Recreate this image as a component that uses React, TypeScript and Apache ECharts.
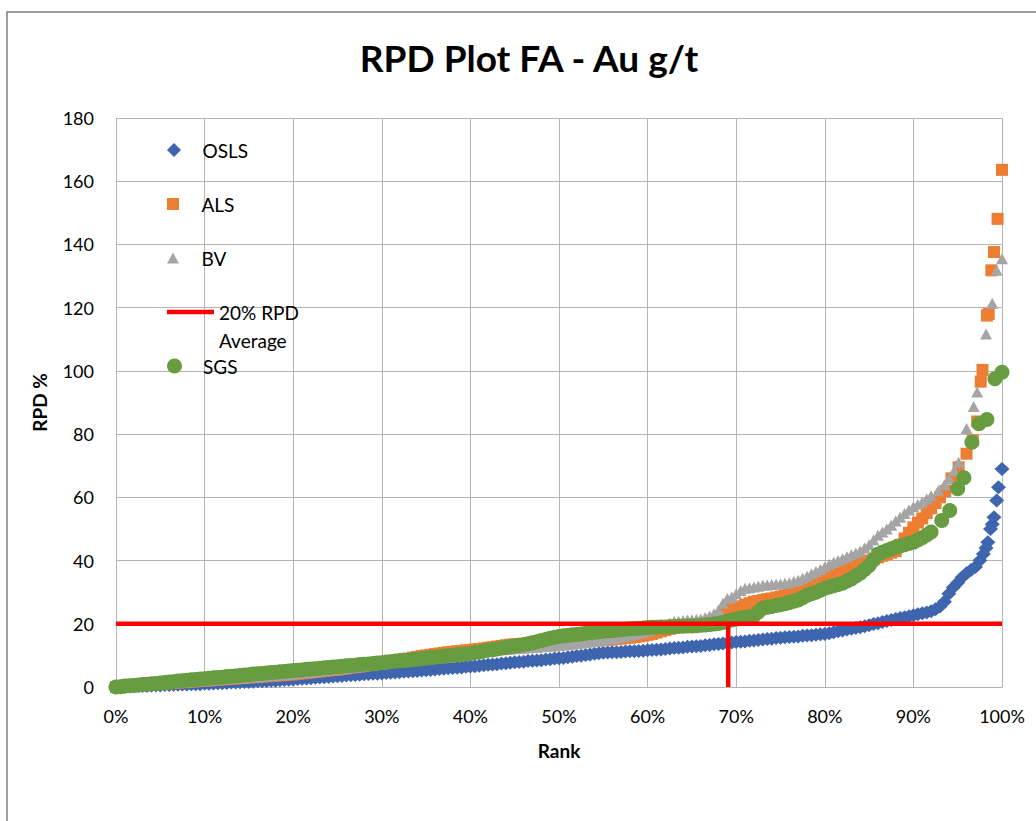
import React, { useEffect, useRef } from "react";
import * as echarts from "echarts";

const TITLE = "RPD Plot FA - Au g/t";
const X_NAME = "Rank";
const Y_NAME = "RPD %";

// [rank %, RPD %]
const osls: [number, number][] = [
  [0, 0], [0.5, 0.1], [1, 0.1], [1.5, 0.2], [2, 0.2], [2.5, 0.3], [3, 0.3], [3.5, 0.3], [4, 0.4], [4.5, 0.5], [5, 0.5],
  [5.5, 0.6], [6, 0.6], [6.5, 0.7], [7, 0.7], [7.5, 0.8], [8, 0.8], [8.5, 0.9], [9, 0.9], [9.5, 0.9], [10, 1.0],
  [10.5, 1.0], [11, 1.1], [11.5, 1.2], [12, 1.2], [12.5, 1.3], [13, 1.4], [13.5, 1.4], [14, 1.5], [14.5, 1.6], [15, 1.6],
  [15.5, 1.7], [16, 1.8], [16.5, 1.8], [17, 1.9], [17.5, 2.0], [18, 2.0], [18.5, 2.1], [19, 2.2], [19.5, 2.3], [20, 2.4],
  [20.5, 2.5], [21, 2.6], [21.5, 2.7], [22, 2.8], [22.5, 2.9], [23, 3.0], [23.5, 3.1], [24, 3.2], [24.5, 3.3], [25, 3.4],
  [25.5, 3.5], [26, 3.6], [26.5, 3.7], [27, 3.8], [27.5, 3.9], [28, 4.0], [28.5, 4.1], [29, 4.2], [29.5, 4.2], [30, 4.3],
  [30.5, 4.4], [31, 4.5], [31.5, 4.6], [32, 4.7], [32.5, 4.8], [33, 4.9], [33.5, 5.0], [34, 5.1], [34.5, 5.2], [35, 5.3],
  [35.5, 5.4], [36, 5.5], [36.5, 5.7], [37, 5.8], [37.5, 5.9], [38, 6.0], [38.5, 6.1], [39, 6.2], [39.5, 6.4], [40, 6.5],
  [40.5, 6.6], [41, 6.7], [41.5, 6.9], [42, 7.0], [42.5, 7.1], [43, 7.2], [43.5, 7.4], [44, 7.5], [44.5, 7.7], [45, 7.8],
  [45.5, 7.9], [46, 8.0], [46.5, 8.2], [47, 8.3], [47.5, 8.4], [48, 8.5], [48.5, 8.7], [49, 8.8], [49.5, 9.0], [50, 9.1],
  [50.5, 9.2], [51, 9.4], [51.5, 9.6], [52, 9.8], [52.5, 9.9], [53, 10.1], [53.5, 10.3], [54, 10.5], [54.5, 10.7], [55, 10.8],
  [55.5, 10.9], [56, 11.0], [56.5, 11.0], [57, 11.1], [57.5, 11.2], [58, 11.3], [58.5, 11.3], [59, 11.4], [59.5, 11.5], [60, 11.6],
  [60.5, 11.7], [61, 11.8], [61.5, 11.9], [62, 12.0], [62.5, 12.2], [63, 12.3], [63.5, 12.4], [64, 12.5], [64.5, 12.7], [65, 12.8],
  [65.5, 12.9], [66, 13.0], [66.5, 13.2], [67, 13.3], [67.5, 13.5], [68, 13.6], [68.5, 13.8], [69, 13.9], [69.5, 14.1], [70, 14.2],
  [70.5, 14.3], [71, 14.4], [71.5, 14.6], [72, 14.7], [72.5, 14.9], [73, 15.0], [73.5, 15.2], [74, 15.3], [74.5, 15.5], [75, 15.6],
  [75.5, 15.7], [76, 15.8], [76.5, 15.9], [77, 16.0], [77.5, 16.2], [78, 16.3], [78.5, 16.4], [79, 16.5], [79.5, 16.7], [80, 16.8],
  [80.5, 17.0], [81, 17.3], [81.5, 17.6], [82, 17.9], [82.5, 18.2], [83, 18.4], [83.5, 18.7], [84, 18.9], [84.5, 19.2], [85, 19.5],
  [85.5, 19.9], [86, 20.2], [86.5, 20.6], [87, 20.9], [87.5, 21.2], [88, 21.5], [88.5, 21.8], [89, 22.1], [89.5, 22.4], [90, 22.7],
  [90.5, 23.0], [91, 23.3], [91.5, 23.6], [92, 24.0], [92.5, 24.6], [93, 25.5], [93.5, 27], [94, 29.5], [94.5, 31.5], [95, 33],
  [95.5, 34.7], [96, 36], [96.5, 37], [97, 38], [97.5, 40], [97.9, 42.1], [98.2, 44], [98.4, 45.8], [98.7, 50], [98.9, 51.5],
  [99.1, 53.7], [99.4, 59], [99.6, 63.2], [100, 69],
];

const als: [number, number][] = [
  [0, 0], [0.5, 0.1], [1, 0.2], [1.5, 0.3], [2, 0.4], [2.5, 0.5], [3, 0.6], [3.5, 0.7], [4, 0.8], [4.5, 0.9], [5, 1.0],
  [5.5, 1.1], [6, 1.2], [6.5, 1.3], [7, 1.4], [7.5, 1.5], [8, 1.6], [8.5, 1.7], [9, 1.8], [9.5, 1.9], [10, 2.0],
  [10.5, 2.1], [11, 2.2], [11.5, 2.3], [12, 2.4], [12.5, 2.5], [13, 2.6], [13.5, 2.7], [14, 2.8], [14.5, 2.9], [15, 3.0],
  [15.5, 3.1], [16, 3.2], [16.5, 3.3], [17, 3.4], [17.5, 3.5], [18, 3.6], [18.5, 3.7], [19, 3.8], [19.5, 3.9], [20, 4.0],
  [20.5, 4.2], [21, 4.3], [21.5, 4.5], [22, 4.6], [22.5, 4.8], [23, 4.9], [23.5, 5.1], [24, 5.2], [24.5, 5.4], [25, 5.5],
  [25.5, 5.7], [26, 5.9], [26.5, 6.1], [27, 6.3], [27.5, 6.5], [28, 6.7], [28.5, 6.9], [29, 7.1], [29.5, 7.3], [30, 7.5],
  [30.5, 7.8], [31, 8.0], [31.5, 8.3], [32, 8.5], [32.5, 8.8], [33, 9.0], [33.5, 9.3], [34, 9.5], [34.5, 9.8], [35, 10.0],
  [35.5, 10.2], [36, 10.4], [36.5, 10.6], [37, 10.8], [37.5, 11.0], [38, 11.1], [38.5, 11.3], [39, 11.4], [39.5, 11.6], [40, 11.7],
  [40.5, 11.9], [41, 12.0], [41.5, 12.2], [42, 12.4], [42.5, 12.6], [43, 12.8], [43.5, 13.0], [44, 13.2], [44.5, 13.4], [45, 13.5],
  [45.5, 13.6], [46, 13.7], [46.5, 13.8], [47, 13.9], [47.5, 14.0], [48, 14.0], [48.5, 14.1], [49, 14.1], [49.5, 14.2], [50, 14.2],
  [50.5, 14.3], [51, 14.3], [51.5, 14.4], [52, 14.4], [52.5, 14.5], [53, 14.5], [53.5, 14.6], [54, 14.6], [54.5, 14.7], [55, 14.8],
  [55.5, 14.9], [56, 15.0], [56.5, 15.2], [57, 15.3], [57.5, 15.5], [58, 15.6], [58.5, 15.8], [59, 16.0], [59.5, 16.2], [60, 16.5],
  [60.5, 16.8], [61, 17.2], [61.5, 17.6], [62, 18.0], [62.5, 18.4], [63, 18.7], [63.5, 19.0], [64, 19.2], [64.5, 19.4], [65, 19.6],
  [65.5, 19.8], [66, 20.0], [66.5, 20.2], [67, 20.5], [67.5, 21.0], [68, 21.5], [68.5, 23.5], [69, 24.3], [69.5, 24.6], [70, 24.9],
  [70.5, 25.5], [71, 26.0], [71.5, 26.5], [72, 27.0], [72.5, 27.2], [73, 27.5], [73.5, 27.8], [74, 28.0], [74.5, 28.3], [75, 28.6],
  [75.5, 29.0], [76, 29.5], [76.5, 30.0], [77, 30.5], [77.5, 31.1], [78, 31.7], [78.5, 32.3], [79, 33.0], [79.5, 33.7], [80, 34.4],
  [80.5, 35.0], [81, 35.5], [81.5, 36.0], [82, 36.5], [82.5, 37.2], [83, 37.8], [83.5, 38.4], [84, 39.0], [84.5, 39.5], [85, 40.0],
  [85.5, 40.5], [86, 41.0], [86.5, 41.5], [87, 42.0], [87.5, 42.5], [88, 43.0], [88.5, 45.0], [89, 47.0], [89.5, 48.8], [90, 50.5],
  [90.5, 52.0], [91, 53.3], [91.5, 55.0], [92, 56.5], [92.5, 58.2], [93, 60.0], [93.6, 62], [94.3, 66], [95.1, 69.5], [96, 73.8],
  [96.7, 78], [97.2, 84], [97.6, 96.6], [97.8, 100.3], [98.3, 117.5], [98.5, 118], [98.8, 131.8], [99.1, 137.6], [99.5, 148.1], [100, 163.6],
];

const bv: [number, number][] = [
  [0, 0], [0.5, 0.1], [1, 0.2], [1.5, 0.3], [2, 0.4], [2.5, 0.5], [3, 0.6], [3.5, 0.7], [4, 0.8], [4.5, 0.9], [5, 1.0],
  [5.5, 1.1], [6, 1.2], [6.5, 1.3], [7, 1.4], [7.5, 1.5], [8, 1.6], [8.5, 1.7], [9, 1.8], [9.5, 1.9], [10, 2.0],
  [10.5, 2.1], [11, 2.2], [11.5, 2.3], [12, 2.4], [12.5, 2.5], [13, 2.6], [13.5, 2.7], [14, 2.8], [14.5, 2.9], [15, 3.0],
  [15.5, 3.1], [16, 3.2], [16.5, 3.3], [17, 3.4], [17.5, 3.6], [18, 3.7], [18.5, 3.8], [19, 3.9], [19.5, 4.0], [20, 4.1],
  [20.5, 4.3], [21, 4.4], [21.5, 4.6], [22, 4.7], [22.5, 4.9], [23, 5.0], [23.5, 5.2], [24, 5.3], [24.5, 5.5], [25, 5.6],
  [25.5, 5.8], [26, 5.9], [26.5, 6.1], [27, 6.2], [27.5, 6.4], [28, 6.6], [28.5, 6.8], [29, 7.0], [29.5, 7.1], [30, 7.3],
  [30.5, 7.5], [31, 7.7], [31.5, 7.9], [32, 8.1], [32.5, 8.3], [33, 8.5], [33.5, 8.7], [34, 8.9], [34.5, 9.1], [35, 9.3],
  [35.5, 9.5], [36, 9.7], [36.5, 9.9], [37, 10.0], [37.5, 10.2], [38, 10.3], [38.5, 10.5], [39, 10.6], [39.5, 10.8], [40, 10.9],
  [40.5, 11.1], [41, 11.2], [41.5, 11.4], [42, 11.5], [42.5, 11.6], [43, 11.7], [43.5, 11.8], [44, 11.9], [44.5, 12.0], [45, 12.1],
  [45.5, 12.2], [46, 12.3], [46.5, 12.4], [47, 12.5], [47.5, 12.6], [48, 12.7], [48.5, 12.8], [49, 12.9], [49.5, 13.0], [50, 13.1],
  [50.5, 13.3], [51, 13.4], [51.5, 13.6], [52, 13.7], [52.5, 13.9], [53, 14.0], [53.5, 14.2], [54, 14.4], [54.5, 14.6], [55, 14.8],
  [55.5, 15.0], [56, 15.3], [56.5, 15.5], [57, 15.8], [57.5, 16.1], [58, 16.4], [58.5, 16.7], [59, 17.0], [59.5, 17.4], [60, 17.8],
  [60.5, 18.2], [61, 18.6], [61.5, 19.0], [62, 19.5], [62.5, 20.2], [63, 20.7], [63.5, 20.8], [64, 21.0], [64.5, 21.2], [65, 21.3],
  [65.5, 21.4], [66, 21.5], [66.5, 22.0], [67, 22.5], [67.5, 23.2], [68, 24.3], [68.5, 26.5], [69, 28.0], [69.5, 28.5], [70, 29.5],
  [70.5, 30.5], [71, 31.2], [71.5, 31.4], [72, 31.6], [72.5, 31.9], [73, 32.2], [73.5, 32.3], [74, 32.4], [74.5, 32.5], [75, 32.6],
  [75.5, 32.8], [76, 33.0], [76.5, 33.4], [77, 33.8], [77.5, 34.4], [78, 35.0], [78.5, 35.8], [79, 36.5], [79.5, 37.2], [80, 38.0],
  [80.5, 38.8], [81, 39.5], [81.5, 40.0], [82, 40.6], [82.5, 41.2], [83, 41.8], [83.5, 42.4], [84, 43.0], [84.5, 44.0], [85, 45.0],
  [85.5, 46.5], [86, 48.0], [86.5, 49.0], [87, 50.0], [87.5, 51.2], [88, 52.5], [88.5, 53.7], [89, 54.9], [89.5, 56.0], [90, 57.0],
  [90.5, 57.8], [91, 58.5], [91.5, 59.5], [92, 60.5], [92.8, 62.1], [93.5, 64], [94, 65.9], [94.6, 68.5], [95.1, 71.1], [96, 81.8],
  [96.8, 88.7], [97.2, 93.3], [98.2, 111.7], [98.9, 121.4], [99.4, 131.8], [100, 135.5],
];

const sgs: [number, number][] = [
  [0, 0], [0.5, 0.1], [1, 0.3], [1.5, 0.4], [2, 0.5], [2.5, 0.6], [3, 0.8], [3.5, 0.9], [4, 1.0], [4.5, 1.1], [5, 1.3],
  [5.5, 1.4], [6, 1.6], [6.5, 1.7], [7, 1.9], [7.5, 2.0], [8, 2.1], [8.5, 2.3], [9, 2.4], [9.5, 2.5], [10, 2.6],
  [10.5, 2.8], [11, 2.9], [11.5, 3.0], [12, 3.1], [12.5, 3.3], [13, 3.4], [13.5, 3.5], [14, 3.6], [14.5, 3.8], [15, 3.9],
  [15.5, 4.1], [16, 4.2], [16.5, 4.3], [17, 4.4], [17.5, 4.6], [18, 4.7], [18.5, 4.8], [19, 4.9], [19.5, 5.1], [20, 5.2],
  [20.5, 5.3], [21, 5.4], [21.5, 5.6], [22, 5.7], [22.5, 5.8], [23, 5.9], [23.5, 6.1], [24, 6.2], [24.5, 6.3], [25, 6.4],
  [25.5, 6.6], [26, 6.7], [26.5, 6.8], [27, 6.9], [27.5, 7.1], [28, 7.2], [28.5, 7.3], [29, 7.4], [29.5, 7.6], [30, 7.7],
  [30.5, 7.9], [31, 8.0], [31.5, 8.2], [32, 8.3], [32.5, 8.4], [33, 8.5], [33.5, 8.7], [34, 8.8], [34.5, 9.0], [35, 9.1],
  [35.5, 9.3], [36, 9.4], [36.5, 9.6], [37, 9.7], [37.5, 9.9], [38, 10.0], [38.5, 10.2], [39, 10.3], [39.5, 10.5], [40, 10.6],
  [40.5, 10.9], [41, 11.1], [41.5, 11.4], [42, 11.6], [42.5, 11.8], [43, 12.0], [43.5, 12.3], [44, 12.5], [44.5, 12.8], [45, 13.0],
  [45.5, 13.2], [46, 13.4], [46.5, 13.7], [47, 14.0], [47.5, 14.3], [48, 14.7], [48.5, 15.0], [49, 15.4], [49.5, 15.7], [50, 16.0],
  [50.5, 16.2], [51, 16.3], [51.5, 16.5], [52, 16.6], [52.5, 16.8], [53, 17.0], [53.5, 17.2], [54, 17.3], [54.5, 17.5], [55, 17.6],
  [55.5, 17.8], [56, 17.9], [56.5, 18.0], [57, 18.1], [57.5, 18.3], [58, 18.4], [58.5, 18.5], [59, 18.6], [59.5, 18.7], [60, 18.8],
  [60.5, 18.9], [61, 18.9], [61.5, 19.0], [62, 19.0], [62.5, 19.1], [63, 19.1], [63.5, 19.2], [64, 19.2], [64.5, 19.3], [65, 19.3],
  [65.5, 19.4], [66, 19.5], [66.5, 19.6], [67, 19.8], [67.5, 19.9], [68, 20.1], [68.5, 20.4], [69, 20.8], [69.5, 21.2], [70, 21.5],
  [70.5, 21.8], [71, 22.0], [71.5, 22.2], [72, 22.5], [72.5, 23.7], [73, 24.9], [73.5, 25.2], [74, 25.5], [74.5, 25.8], [75, 26.0],
  [75.5, 26.3], [76, 26.7], [76.5, 27.1], [77, 27.5], [77.5, 28.2], [78, 29.0], [78.5, 29.5], [79, 30.0], [79.5, 30.6], [80, 31.2],
  [80.5, 31.6], [81, 32.0], [81.5, 32.4], [82, 32.8], [82.5, 33.5], [83, 34.2], [83.5, 35.1], [84, 36.0], [84.5, 37.2], [85, 38.4],
  [85.5, 40.2], [86, 42.0], [86.5, 42.6], [87, 43.2], [87.5, 43.7], [88, 44.2], [88.5, 44.6], [89, 45.0], [89.5, 45.4], [90, 45.8],
  [90.5, 46.5], [91, 47.2], [91.5, 48.1], [92, 49.0], [93.2, 52.7], [94.1, 55.8], [95, 62.7], [95.7, 66.2], [96.6, 77.4], [97.4, 83.3],
  [98.3, 84.6], [99.2, 97.5], [100, 99.6],
];

// 20% RPD average line and the rank where it is crossed
const avgRank = [0, 100];
const avgValue = [20, 20];
const crossRank = [69.1, 69.1];
const crossValue = [0, 20];

const FONT = "Lato, 'Open Sans', sans-serif";

export default function App() {
  const ref = useRef<HTMLDivElement>(null);

  useEffect(() => {
    if (!ref.current) return;
    const chart = echarts.init(ref.current, null, { renderer: "svg" });

    const legendBase = {
      orient: "vertical",
      left: 167,
      padding: 0,
      itemWidth: 47,
      itemGap: 0,
      selectedMode: false,
      symbolKeepAspect: true,
      textStyle: { fontFamily: FONT, fontSize: 19, color: "#000", lineHeight: 22 },
    };

    chart.setOption({
      animation: false,
      backgroundColor: "#ffffff",
      title: {
        text: TITLE,
        left: 524,
        textAlign: "center",
        top: 34,
        textStyle: { fontFamily: FONT, fontWeight: "bold", fontSize: 37, color: "#000" },
      },
      graphic: [
        {
          type: "rect",
          silent: true,
          z: -10,
          shape: { x: 7, y: 12, width: 1200, height: 1000 },
          style: { fill: "none", stroke: "#7f7f7f", lineWidth: 1.5 },
        },
      ],
      legend: [
        { ...legendBase, top: 139, itemHeight: 14, data: [{ name: "OSLS", icon: "path://M0,-1L1,0L0,1L-1,0Z" }] },
        { ...legendBase, top: 193, itemHeight: 12, data: [{ name: "ALS", icon: "path://M0,0H1V1H0Z" }] },
        { ...legendBase, top: 247, itemHeight: 11, data: [{ name: "BV", icon: "path://M6,0L12,11L0,11Z" }] },
        {
          ...legendBase,
          top: 270,
          itemHeight: 4.5,
          data: [{ name: "20% RPD Average", icon: "rect" }],
          formatter: () => "\n20% RPD\nAverage",
          textStyle: { ...legendBase.textStyle, lineHeight: 28 },
        },
        { ...legendBase, top: 355, itemHeight: 15, data: [{ name: "SGS", icon: "circle" }] },
      ],
      grid: { left: 116, right: 34, top: 118, bottom: 134 },
      xAxis: {
        type: "value",
        min: 0,
        max: 100,
        interval: 10,
        name: X_NAME,
        nameLocation: "middle",
        nameGap: 54,
        nameTextStyle: { fontFamily: FONT, fontWeight: "bold", fontSize: 19, color: "#000" },
        axisLine: { show: true, onZero: false, lineStyle: { color: "#b4b4b4", width: 1 } },
        axisTick: { show: false },
        axisLabel: { formatter: "{value}%", fontFamily: FONT, fontSize: 18, color: "#000", margin: 20 },
        splitLine: { show: true, lineStyle: { color: "#b4b4b4", width: 1 } },
      },
      yAxis: {
        type: "value",
        min: 0,
        max: 180,
        interval: 20,
        name: Y_NAME,
        nameLocation: "middle",
        nameGap: 67,
        nameRotate: 90,
        nameTextStyle: { fontFamily: FONT, fontWeight: "bold", fontSize: 19, color: "#000" },
        axisLine: { show: false },
        axisTick: { show: false },
        axisLabel: { fontFamily: FONT, fontSize: 18, color: "#000", margin: 22 },
        splitLine: { show: true, lineStyle: { color: "#b4b4b4", width: 1 } },
      },
      series: [
        {
          name: "OSLS",
          type: "scatter",
          symbol: "diamond",
          symbolSize: [15, 14],
          itemStyle: { color: "#3E65AE", opacity: 1 },
          data: osls,
        },
        {
          name: "ALS",
          type: "scatter",
          symbol: "rect",
          symbolSize: 12,
          itemStyle: { color: "#ED7D31", opacity: 1 },
          data: als,
        },
        {
          name: "BV",
          type: "scatter",
          symbol: "triangle",
          symbolSize: [12, 11],
          itemStyle: { color: "#A5A5A5", opacity: 1 },
          data: bv,
        },
        {
          name: "20% RPD Average",
          type: "line",
          symbol: "none",
          color: "#FF0000",
          itemStyle: { color: "#FF0000" },
          lineStyle: { color: "#FF0000", width: 4.5 },
          data: avgRank.map((r, i) => [r, avgValue[i]]),
        },
        {
          name: "cross",
          type: "line",
          symbol: "none",
          lineStyle: { color: "#FF0000", width: 4.5 },
          data: crossRank.map((r, i) => [r, crossValue[i]]),
        },
        {
          name: "SGS",
          type: "scatter",
          symbol: "circle",
          symbolSize: 15,
          itemStyle: { color: "#679C40", opacity: 1 },
          data: sgs,
        },
      ],
    });

    return () => chart.dispose();
  }, []);

  return (
    <div
      ref={ref}
      style={{ position: "fixed", left: 0, top: 0, width: 1036, height: 821, background: "#fff" }}
    />
  );
}
